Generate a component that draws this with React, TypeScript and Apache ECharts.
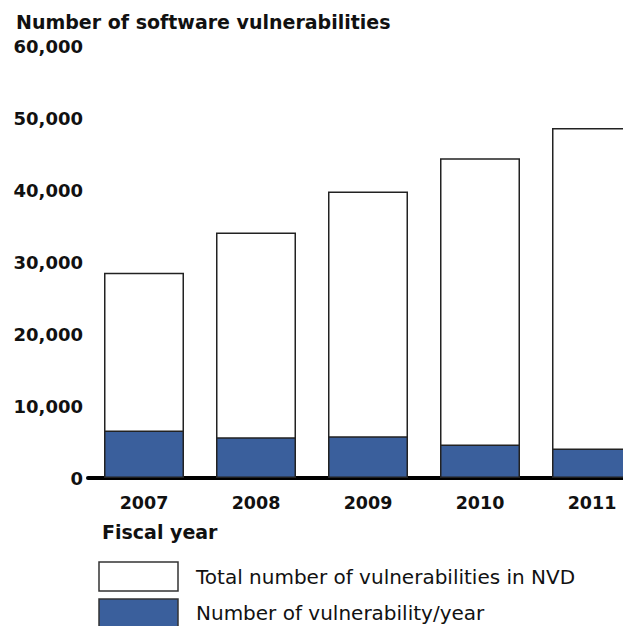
import React, { useEffect, useRef } from "react";
import * as echarts from "echarts";

const years = ["2007", "2008", "2009", "2010", "2011"];
const totalInNVD = [28500, 34100, 39800, 44400, 48600];
const perYear = [6600, 5650, 5800, 4650, 4100];
const yTicks = { min: 0, max: 60000, interval: 10000 };
const seriesNames = ["Total number of vulnerabilities in NVD", "Number of vulnerability/year"];

const FONT = "DejaVu Sans";
const WHITE = "#ffffff";
const BLUE = "#3a5f9c";
const EDGE = "#222222";

export default function App() {
  const ref = useRef<HTMLDivElement>(null);
  useEffect(() => {
    if (!ref.current) return;
    const chart = echarts.init(ref.current, null, { renderer: "svg" });
    chart.setOption({
      animation: false,
      backgroundColor: "#ffffff",
      title: {
        text: "Number of software vulnerabilities",
        left: 11,
        top: 7,
        textStyle: { fontFamily: FONT, fontSize: 19, fontWeight: "bold", color: "#111" },
      },
      grid: { left: 88, top: 46, width: 560, height: 432 },
      xAxis: {
        type: "category",
        data: years,
        axisLine: { lineStyle: { color: "#000", width: 4 } },
        axisTick: { show: false },
        axisLabel: { fontFamily: FONT, fontSize: 17.5, fontWeight: "bold", color: "#111", margin: 16 },
      },
      yAxis: {
        type: "value",
        min: yTicks.min,
        max: yTicks.max,
        interval: yTicks.interval,
        axisLine: { show: false },
        axisTick: { show: false },
        splitLine: { show: false },
        axisLabel: {
          fontFamily: FONT,
          fontSize: 18,
          fontWeight: "bold",
          color: "#111",
          margin: 5,
          formatter: (v: number) => v.toLocaleString("en-US"),
        },
      },
      graphic: [
        {
          type: "text",
          left: 102,
          top: 522,
          style: { text: "Fiscal year", fontFamily: FONT, fontSize: 19, fontWeight: "bold", fill: "#111" },
        },
        {
          type: "rect",
          shape: { x: 99, y: 562, width: 79, height: 29 },
          style: { fill: WHITE, stroke: "#333", lineWidth: 1.5 },
        },
        {
          type: "text",
          x: 196,
          y: 577,
          style: {
            text: seriesNames[0],
            fontFamily: FONT,
            fontSize: 20,
            fill: "#111",
            verticalAlign: "middle",
          },
        },
        {
          type: "rect",
          shape: { x: 99, y: 599, width: 79, height: 32 },
          style: { fill: BLUE, stroke: "#333", lineWidth: 1.5 },
        },
        {
          type: "text",
          x: 196,
          y: 613,
          style: {
            text: seriesNames[1],
            fontFamily: FONT,
            fontSize: 20,
            fill: "#111",
            verticalAlign: "middle",
          },
        },
      ],
      series: [
        {
          name: seriesNames[0],
          type: "bar",
          data: totalInNVD,
          barWidth: 80,
          barGap: "-100%",
          itemStyle: { color: WHITE, borderColor: EDGE, borderWidth: 1.5 },
        },
        {
          name: seriesNames[1],
          type: "bar",
          data: perYear,
          barWidth: 80,
          barGap: "-100%",
          itemStyle: { color: BLUE, borderColor: EDGE, borderWidth: 1.5 },
        },
      ],
    });
    return () => chart.dispose();
  }, []);
  return (
    <div style={{ position: "fixed", left: 0, top: 0, width: 623, height: 626, overflow: "hidden", background: "#fff" }}>
      <div ref={ref} style={{ width: 700, height: 626 }} />
    </div>
  );
}
